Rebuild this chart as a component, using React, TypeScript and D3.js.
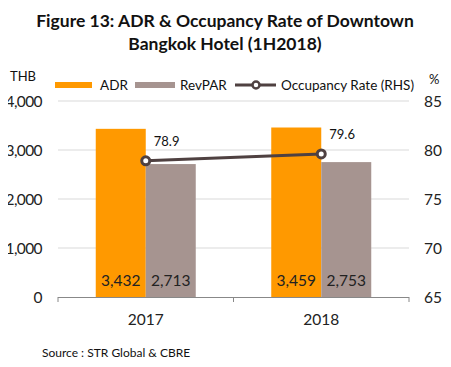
import React from 'react';
import * as d3 from 'd3';

const years = ['2017', '2018'];
const adr = [3432, 3459];
const revpar = [2713, 2753];
const occupancy = [78.9, 79.6];
const leftTicks = [0, 1000, 2000, 3000, 4000];
const rightTicks = [65, 70, 75, 80, 85];

const FONT = 'Lato, "Open Sans", sans-serif';

const App = () => {
  const left = 58;
  const right = 409;
  const top = 101;
  const bottom = 297;

  const x = d3.scaleBand().domain(years).range([left, right]).paddingInner(0).paddingOuter(0);
  const inner = d3.scaleBand().domain(['adr', 'revpar']).range([0, 100]);
  const y = d3.scaleLinear().domain([0, 4000]).range([bottom, top]);
  const y2 = d3.scaleLinear().domain([65, 85]).range([bottom, top]);
  const fmt = d3.format(',');

  const cx = (i) => x(years[i]) + x.bandwidth() / 2;
  const line = d3
    .line()
    .x((d, i) => cx(i))
    .y((d) => y2(d));

  return (
    <div style={{ background: 'white', width: 451, height: 367, margin: -8 }}>
      <svg width={451} height={367} style={{ display: 'block' }} fontFamily={FONT}>
        {/* title */}
        <text x={225} y={27} textAnchor="middle" fontSize={17.5} fontWeight="bold" fill="#111">
          Figure 13: ADR &amp; Occupancy Rate of Downtown
        </text>
        <text x={225} y={50} textAnchor="middle" fontSize={17.5} fontWeight="bold" fill="#111">
          Bangkok Hotel (1H2018)
        </text>

        {/* legend */}
        <text x={10} y={81} fontSize={13} fill="#111">THB</text>
        <text x={429} y={84} fontSize={13} fill="#111">%</text>
        <rect x={55} y={82} width={37} height={6} fill="#FF9900" />
        <text x={100} y={90} fontSize={13.5} fill="#111">ADR</text>
        <rect x={135} y={82} width={40} height={6} fill="#A69490" />
        <text x={180} y={90} fontSize={13.5} fill="#111">RevPAR</text>
        <line x1={235} x2={276} y1={85} y2={85} stroke="#4F4141" strokeWidth={3} />
        <circle cx={256} cy={85} r={3.5} fill="white" stroke="#4F4141" strokeWidth={2.5} />
        <text x={281} y={90} fontSize={13.5} fill="#111">Occupancy Rate (RHS)</text>

        {/* gridlines */}
        {leftTicks.slice(1).map((t) => (
          <line key={t} x1={left} x2={right} y1={y(t)} y2={y(t)} stroke="#D9D9D9" strokeWidth={1} />
        ))}

        {/* left axis labels */}
        {leftTicks.map((t) => (
          <text key={t} x={42} y={y(t) + 6} textAnchor="end" fontSize={15.5} letterSpacing={-0.6} fill="#222">
            {fmt(t)}
          </text>
        ))}
        {/* right axis labels */}
        {rightTicks.map((t) => (
          <text key={t} x={424} y={y2(t) + 6} fontSize={15.5} fill="#222">
            {t}
          </text>
        ))}

        {/* bars */}
        {years.map((yr, i) => {
          const x0 = cx(i) - 50;
          return (
            <g key={yr}>
              <rect x={x0 + inner('adr')} y={y(adr[i])} width={inner.bandwidth()} height={bottom - y(adr[i])} fill="#FF9900" />
              <rect x={x0 + inner('revpar')} y={y(revpar[i])} width={inner.bandwidth()} height={bottom - y(revpar[i])} fill="#A69490" />
              <text x={x0 + inner('adr') + inner.bandwidth() / 2} y={bottom - 11} textAnchor="middle" fontSize={15.5} fill="#222">
                {fmt(adr[i])}
              </text>
              <text x={x0 + inner('revpar') + inner.bandwidth() / 2} y={bottom - 11} textAnchor="middle" fontSize={15.5} fill="#222">
                {fmt(revpar[i])}
              </text>
              <text x={cx(i)} y={325} textAnchor="middle" fontSize={15.5} fill="#222">
                {yr}
              </text>
            </g>
          );
        })}

        {/* x axis */}
        <line x1={left} x2={right} y1={bottom + 0.5} y2={bottom + 0.5} stroke="#888" />
        {[left, x('2018'), right].map((t) => (
          <line key={t} x1={t} x2={t} y1={bottom} y2={bottom + 5} stroke="#888" />
        ))}

        {/* occupancy line */}
        <path d={line(occupancy)} fill="none" stroke="#4F4141" strokeWidth={3} />
        {occupancy.map((v, i) => (
          <g key={i}>
            <circle cx={cx(i)} cy={y2(v)} r={4} fill="white" stroke="#4F4141" strokeWidth={3} />
            <text x={cx(i) + 8} y={y2(v) - 15} fontSize={13} fill="#111">
              {v.toFixed(1)}
            </text>
          </g>
        ))}

        {/* source */}
        <text x={42} y={357} fontSize={12} fill="#111">Source : STR Global &amp; CBRE</text>
      </svg>
    </div>
  );
};

export default App;
